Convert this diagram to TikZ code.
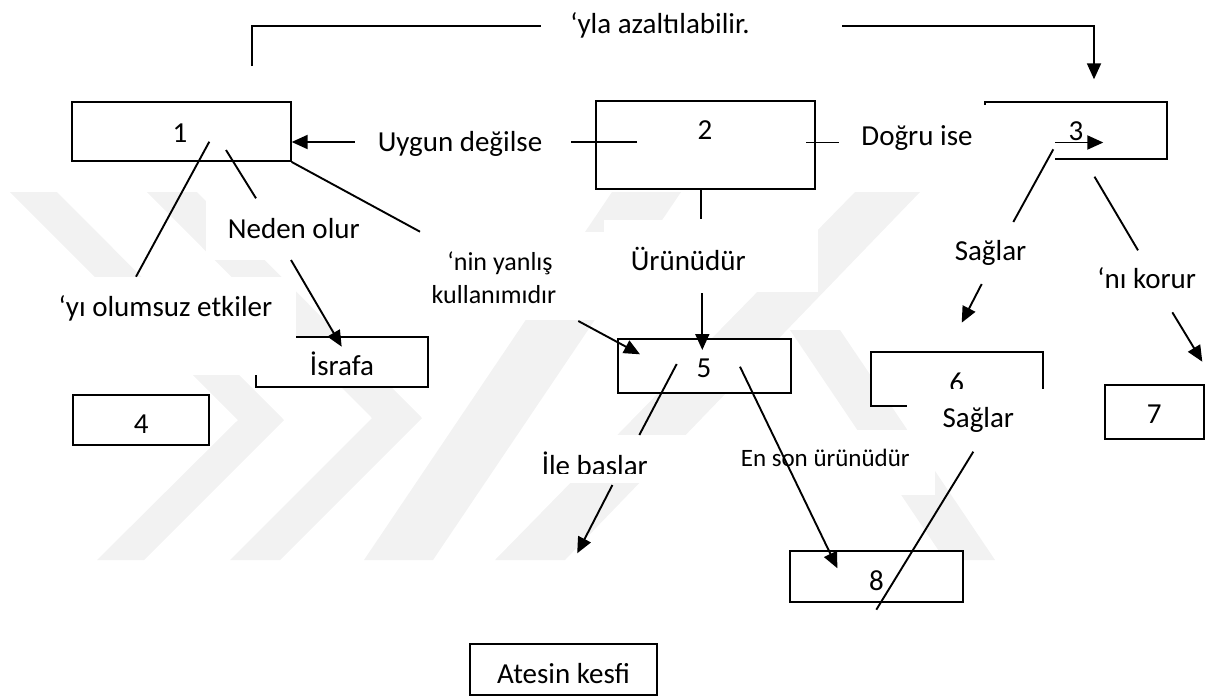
\documentclass[tikz,border=0pt]{standalone}
\usepackage{fontspec}
\setmainfont{Carlito}
\usetikzlibrary{arrows.meta}
\begin{document}
\begin{tikzpicture}[x=1pt,y=-1pt,
  ln/.style={line width=1.9pt},
  arr/.style={line width=1.9pt,-{Triangle[length=16pt,width=14pt]}},
  box/.style={draw,line width=1.9pt,fill=white,inner sep=0pt},
  lbl/.style={font=\fontsize{29}{34}\selectfont,anchor=base,inner sep=0pt},
  smlbl/.style={font=\fontsize{26}{31}\selectfont,anchor=base,inner sep=0pt},
  tinylbl/.style={font=\fontsize{25}{30}\selectfont,anchor=base,inner sep=0pt},
  wm/.style={fill=black!5},
  cover/.style={fill=white}]
\useasboundingbox (0,0) rectangle (1214,697);

% watermark
\fill[wm] (10,192) -- (57,192) -- (284,420) -- (144,560) -- (97,560) -- (238,420) -- cycle;
\fill[wm] (147,192) -- (197,192) -- (422,418) -- (280,560) -- (230,560) -- (372,418) -- cycle;
\fill[wm] (364,560) -- (433,560) -- (681,192) -- (612,192) -- cycle;
\fill[wm] (495,560) -- (565,560) -- (920,192) -- (855,192) -- cycle;
\fill[wm] (790,330) -- (840,330) -- (995,560) -- (945,560) -- cycle;

% boxes
\node[box,minimum width=218.7pt,minimum height=59pt] (b1) at (181.35,131.5) {};
\node[box,minimum width=219pt,minimum height=88pt] (b2) at (705.5,145) {};
\node[box,minimum width=182.3pt,minimum height=57.6pt] (b3) at (1076.15,130.5) {};
\node[box,minimum width=136.6pt,minimum height=50pt] (b4) at (141,420) {};
\node[box,minimum width=172pt,minimum height=50.6pt] (bis) at (342,362) {};
\node[box,minimum width=172.4pt,minimum height=54.3pt] (b5) at (704.5,366.15) {};
\node[box,minimum width=172pt,minimum height=54.3pt] (b6) at (956.7,378.85) {};
\node[box,minimum width=99pt,minimum height=54pt] (b7) at (1154.5,412) {};
\node[box,minimum width=172.2pt,minimum height=50.7pt] (b8) at (876.5,576.35) {};
\node[box,minimum width=187pt,minimum height=50.7pt] (bat) at (563.5,669.65) {};

% box texts
\node[lbl] (t1) at (180,142) {1};
\node[lbl] (t2) at (705,139.5) {2};
\node[lbl] (t3) at (1076,140) {3};
\node[lbl] (t4) at (141.3,433.3) {4};
\node[lbl] (tis) at (342,375) {İsrafa};
\node[lbl] (t5) at (704,377.3) {5};
\node[lbl] (t6) at (956.7,392) {6};
\node[lbl] (t7) at (1154.3,423.3) {7};
\node[lbl] (t8) at (876.5,590) {8};
\node[lbl] (tat) at (563.6,683.3) {Atesin kesfi};

% connectors that pass under labels
\coordinate (u0) at (637,142);
\draw[arr] (u0) -- (b1.east |- u0);
\coordinate (d0) at (806,142.5);
\coordinate (d1) at (1103.3,142.5);
\draw[arr] (d0) -- (d1);
\coordinate (y0) at (252,66);
\coordinate (y1) at (1094,79.3);
\draw[arr] (y0) -- (252,26) -- (1094,26) -- (y1);

% label backgrounds
\fill[cover] (541,0) rectangle (842,55);
\fill[cover] (355,115) rectangle (571,172);
\fill[cover] (839,104.5) rectangle (1055,168);
\fill[cover] (205.7,198) rectangle (372,260);
\fill[cover] (45,277) rectangle (295.7,375);
\fill[cover] (410,232) rectangle (627,320);
\fill[cover] (604,220) rectangle (818,292);
\fill[cover] (935,222) rectangle (1050,284);
\fill[cover] (1085,250) rectangle (1214,312);
\fill[cover] (907.3,389.3) rectangle (1044.5,447);
\fill[cover] (520.6,435) rectangle (712,483.3);
\fill[cover] (713.8,430) rectangle (935,495);

% labels
\node[lbl] (lyla) at (660,33.3) {‘yla azaltılabilir.};
\node[lbl] (luyg) at (460,151.7) {Uygun değilse};
\node[lbl] (ldog) at (917,145) {Doğru ise};
\node[lbl] (lned) at (293.8,238.3) {Neden olur};
\node[lbl] (lyi) at (165.5,316.7) {‘yı olumsuz etkiler};
\node[smlbl] (lnin1) at (500,270.7) {‘nin yanlış};
\node[smlbl] (lnin2) at (494,303.3) {kullanımıdır};
\node[lbl] (lurn) at (688.3,270.7) {Ürünüdür};
\node[lbl] (lsag1) at (990.5,260.7) {Sağlar};
\node[lbl] (lni) at (1146.7,288.3) {‘nı korur};
\node[lbl] (lsag2) at (978.3,427.3) {Sağlar};
\begin{scope}
\clip (520.6,435) rectangle (712,473.8);
\node[lbl] (lile) at (594.8,475.5) {İle baslar};
\end{scope}
\node[tinylbl] (lenson) at (825.3,466.7) {En son ürünüdür};

% other connectors
\coordinate (a1) at (209.3,141.7); \coordinate (a2) at (136,276.7);
\draw[ln] (a1) -- (a2);
\coordinate (n1) at (226,150); \coordinate (n2) at (256,198.3);
\draw[ln] (n1) -- (n2);
\coordinate (n3) at (291,260); \coordinate (n4) at (341.7,346.7);
\draw[arr] (n3) -- (n4);
\coordinate (c2) at (420,231.7);
\draw[ln] (b1.south east) -- (c2);
\coordinate (k1) at (578.3,321); \coordinate (k2) at (640,354.3);
\draw[arr] (k1) -- (k2);
\coordinate (s1) at (701,189); \coordinate (s2) at (701,219.3);
\draw[ln] (s1) -- (s2);
\coordinate (r1) at (702.3,293.3); \coordinate (r2) at (702.3,350);
\draw[arr] (r1) -- (r2);
\coordinate (i0) at (676.7,364); \coordinate (i1) at (639.3,435);
\draw[ln] (i0) -- (i1);
\coordinate (i2) at (612.4,485); \coordinate (i3) at (577.2,553.3);
\draw[arr] (i2) -- (i3);
\coordinate (e0) at (740,366.7); \coordinate (e1) at (837.4,568.3);
\draw[arr] (e0) -- (e1);
\coordinate (g0) at (1053.3,149.3); \coordinate (g1) at (1013.3,222);
\draw[ln] (g0) -- (g1);
\coordinate (g2) at (981.7,284); \coordinate (g3) at (961.7,322.7);
\draw[arr] (g2) -- (g3);
\coordinate (m0) at (1094.5,176.7); \coordinate (m1) at (1138,250.3);
\draw[ln] (m0) -- (m1);
\coordinate (m2) at (1172.3,312.3); \coordinate (m3) at (1202.3,361.7);
\draw[arr] (m2) -- (m3);
\coordinate (h0) at (973.3,451.7); \coordinate (h1) at (876.3,609.7);
\draw[ln] (h0) -- (h1);
\end{tikzpicture}
\end{document}
